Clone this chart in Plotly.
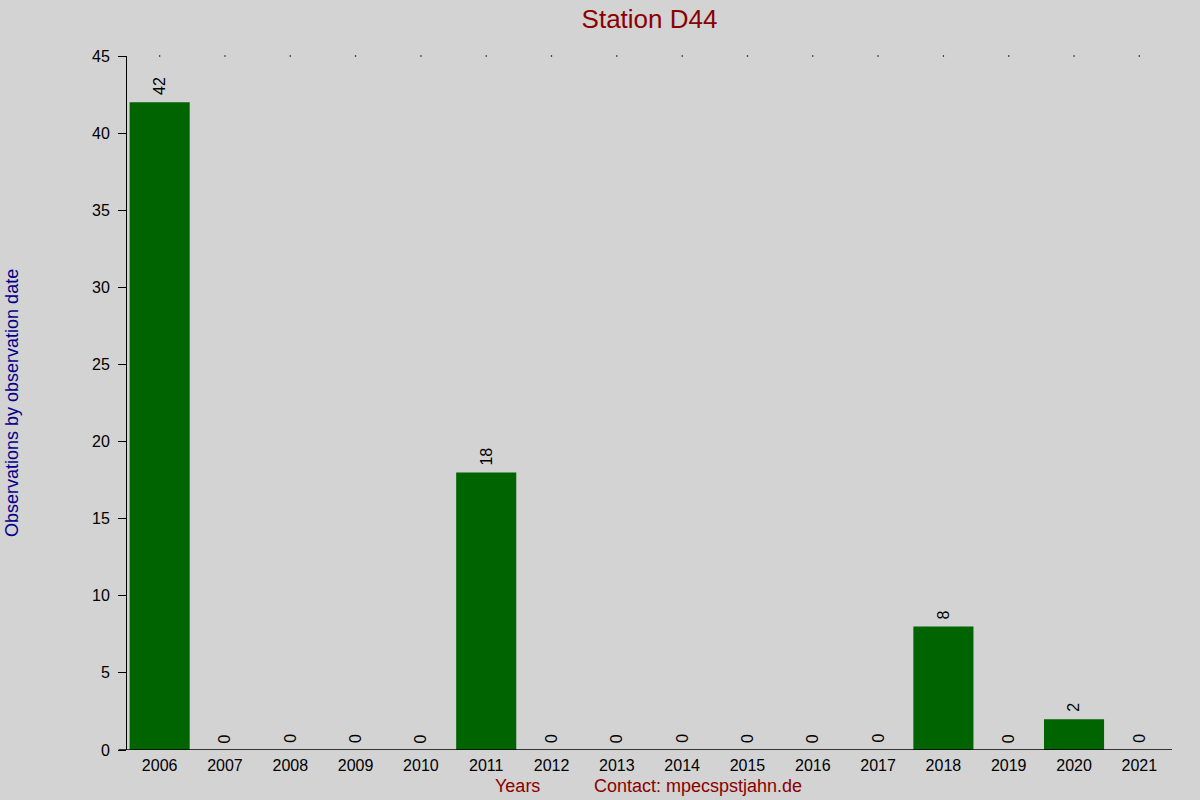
import plotly.graph_objects as go

years = [str(y) for y in range(2006, 2022)]
counts = [42, 0, 0, 0, 0, 18, 0, 0, 0, 0, 0, 0, 8, 0, 2, 0]
top_dots = [45] * len(years)

fig = go.Figure()

fig.add_trace(go.Bar(
    x=years, y=counts,
    marker=dict(color="#006400", line=dict(width=0)),
    hoverinfo="x+y",
))

# little dots along the top edge
fig.add_trace(go.Scatter(
    x=years, y=top_dots, mode="markers",
    marker=dict(color="black", size=1.5),
    cliponaxis=False, hoverinfo="skip",
))

# value labels above each bar, rotated (category index as x)
for i, c in enumerate(counts):
    fig.add_annotation(x=i, y=c, text=str(c), textangle=-90, showarrow=False,
                       xanchor="center", yanchor="bottom", yshift=5,
                       font=dict(size=16, color="black"))

fig.update_layout(
    width=1200, height=800,
    paper_bgcolor="#d3d3d3", plot_bgcolor="#d3d3d3",
    margin=dict(l=127, r=28, t=56, b=50),
    showlegend=False,
    bargap=0.08,
    font=dict(family="Liberation Sans, Arial", size=16, color="black"),
    title=dict(text="Station D44", x=(127 + 1172) / 2 / 1200, xanchor="center",
               y=0.977, yanchor="middle",
               font=dict(size=26, color="#8b0000")),
)

fig.update_xaxes(
    type="category", range=[-0.5, 15.5],
    showgrid=False, zeroline=False, showline=False,
    ticks="", tickfont=dict(size=16), ticklabelstandoff=4,
)
fig.update_yaxes(
    range=[0, 45], tickvals=list(range(0, 50, 5)),
    showgrid=False, zeroline=False,
    showline=True, linecolor="black", linewidth=1,
    ticks="outside", ticklen=8, tickcolor="black",
    tickfont=dict(size=16), ticklabelstandoff=5,
)

# x axis baseline reaching a bit past the y axis
fig.add_shape(type="line", xref="paper", yref="y",
              x0=-0.008, x1=1, y0=0, y1=0,
              line=dict(color="black", width=1.5))

fig.add_annotation(text="Observations by observation date", xref="paper", yref="paper",
                   x=-(127 - 12) / 1045, y=0.5, textangle=-90, showarrow=False,
                   xanchor="center", yanchor="middle",
                   font=dict(size=18, color="#00008b"))
fig.add_annotation(text="Years", xref="paper", yref="paper",
                   x=(517 - 127) / 1045, y=-0.052, showarrow=False,
                   xanchor="center", yanchor="middle",
                   font=dict(size=18, color="#8b0000"))
fig.add_annotation(text="Contact: mpecspstjahn.de", xref="paper", yref="paper",
                   x=(698 - 127) / 1045, y=-0.052, showarrow=False,
                   xanchor="center", yanchor="middle",
                   font=dict(size=18, color="#8b0000"))

fig.write_html("out.html", config={"displayModeBar": False},
               post_script="document.body.style.margin='0';")
